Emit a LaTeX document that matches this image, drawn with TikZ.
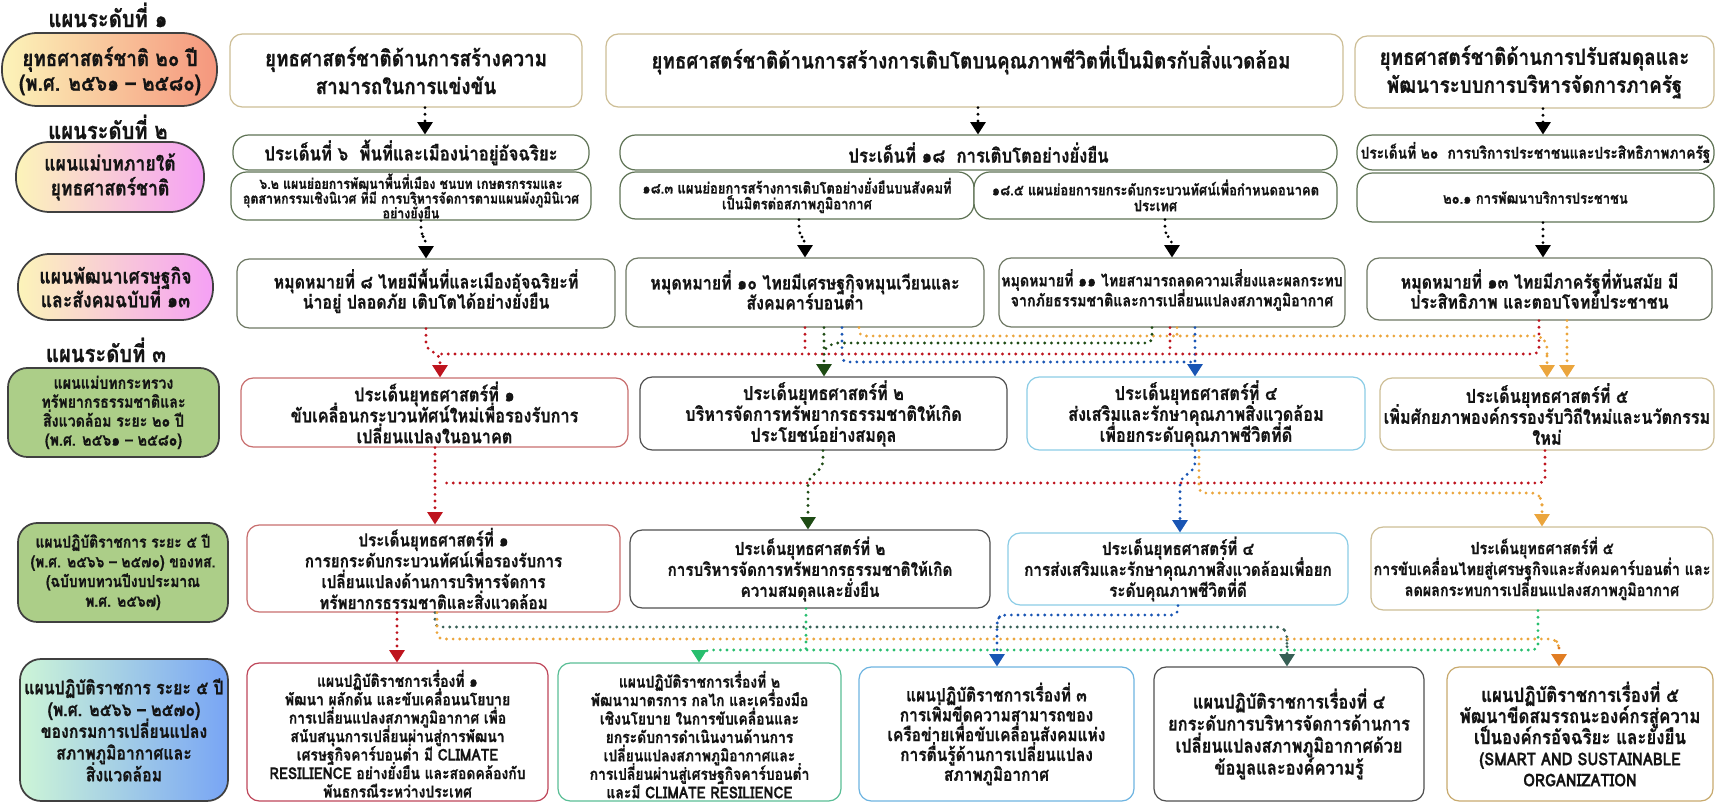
\documentclass[tikz,border=0pt]{standalone}
\usepackage{fontspec}
\newfontfamily\thai[Script=Thai,FakeStretch=0.85,BoldFeatures={FakeBold=0.7}]{Loma}
\usetikzlibrary{arrows.meta,fit}
\definecolor{ink}{RGB}{20,20,20}
\definecolor{tanb}{RGB}{205,190,150}
\definecolor{grnb}{RGB}{95,115,85}
\definecolor{cgb}{RGB}{110,120,100}
\definecolor{grb}{RGB}{80,80,80}
\definecolor{redb}{RGB}{200,110,110}
\definecolor{cyb}{RGB}{140,205,230}
\definecolor{rd}{RGB}{190,20,30}
\definecolor{dg}{RGB}{30,75,20}
\definecolor{bl}{RGB}{25,85,180}
\definecolor{og}{RGB}{235,165,60}
\definecolor{ogd}{RGB}{225,125,35}
\definecolor{sl}{RGB}{55,95,85}
\definecolor{gn}{RGB}{40,190,110}
\definecolor{py}{RGB}{252,244,185}
\definecolor{ps}{RGB}{245,150,125}
\definecolor{pp}{RGB}{245,160,245}
\definecolor{gbx}{RGB}{172,206,136}
\definecolor{mint}{RGB}{205,245,215}
\definecolor{sky}{RGB}{120,165,245}
\definecolor{f1b}{RGB}{190,70,90}
\definecolor{f2b}{RGB}{90,190,150}
\definecolor{f3b}{RGB}{110,180,225}
\definecolor{f5b}{RGB}{200,170,110}
\begin{document}
\begin{tikzpicture}[x=0.02cm,y=-0.02cm,
  box/.style={draw, line width=0.7pt, rounded corners=7pt, inner sep=0pt, fill=white},
  lp/.style={draw=black!75, line width=1pt, inner sep=0pt},
  tx/.style={text=ink, align=center, inner sep=0pt, execute at begin node={\lineskiplimit=-50pt\lineskip=0pt}},
  fs/.style 2 args={font=\thai\bfseries\fontsize{#1}{#2}\selectfont},
  dl/.style={line width=1.8pt, dash pattern=on 0pt off 3.8pt, line cap=round, rounded corners=3pt},
  ar/.style={-{Triangle[width=9pt,length=7pt,line width=0pt]}},
]
\useasboundingbox (0,0) rectangle (1715,803);
% ---------- left column ----------
\node[tx, fs={13.5}{15}] (l1) at (108,15) {แผนระดับที่ ๑};
\node[tx, fs={13.5}{15}] (l2) at (108,127) {แผนระดับที่ ๒};
\node[tx, fs={13.5}{15}] (l3) at (106,350) {แผนระดับที่ ๓};
\node[lp, rounded corners=20pt, left color=py, right color=ps, fit={(2,33) (217,106)}] (p1) {};
\node[tx, fs={12.6}{14}] (p1t) at (110,71) {ยุทธศาสตร์ชาติ ๒๐ ปี\\(พ.ศ. ๒๕๖๑ – ๒๕๘๐)};
\node[lp, rounded corners=19pt, left color=py, right color=pp, fit={(16,142) (204,212)}] (p2) {};
\node[tx, fs={11.8}{14}] (p2t) at (p2) {แผนแม่บทภายใต้\\ยุทธศาสตร์ชาติ};
\node[lp, rounded corners=18pt, left color=py, right color=pp, fit={(18,254) (213,320)}] (p3) {};
\node[tx, fs={11.8}{13.5}] (p3t) at (p3) {แผนพัฒนาเศรษฐกิจ\\และสังคมฉบับที่ ๑๓};
\node[lp, rounded corners=11pt, fill=gbx, fit={(8,368) (219,457)}] (g4) {};
\node[tx, fs={9.5}{10.8}] (g4t) at (g4) {แผนแม่บทกระทรวง\\ทรัพยากรธรรมชาติและ\\สิ่งแวดล้อม ระยะ ๒๐ ปี\\(พ.ศ. ๒๕๖๑ – ๒๕๘๐)};
\node[lp, rounded corners=11pt, fill=gbx, fit={(18,523) (228,622)}] (g5) {};
\node[tx, fs={9.3}{11.2}] (g5t) at (123,572) {แผนปฏิบัติราชการ ระยะ ๕ ปี\\(พ.ศ. ๒๕๖๖ – ๒๕๗๐) ของทส.\\(ฉบับทบทวนปีงบประมาณ\\พ.ศ. ๒๕๖๗)};
\node[lp, rounded corners=12pt, left color=mint, right color=sky, fit={(20,659) (228,801)}] (g6) {};
\node[tx, fs={10.6}{12.4}] (g6t) at (g6) {แผนปฏิบัติราชการ ระยะ ๕ ปี\\(พ.ศ. ๒๕๖๖ – ๒๕๗๐)\\ของกรมการเปลี่ยนแปลง\\สภาพภูมิอากาศและ\\สิ่งแวดล้อม};
% ---------- row A ----------
\node[box, draw=tanb, fit={(230,34) (582,107)}] (a1) {};
\node[tx, fs={12.6}{15.9}] (a1t) at (a1) {ยุทธศาสตร์ชาติด้านการสร้างความ\\สามารถในการแข่งขัน};
\node[box, draw=tanb, fit={(606,34) (1343,107)}] (a2) {};
\node[tx, fs={12.6}{15.9}] (a2t) at (971,60) {ยุทธศาสตร์ชาติด้านการสร้างการเติบโตบนคุณภาพชีวิตที่เป็นมิตรกับสิ่งแวดล้อม};
\node[box, draw=tanb, fit={(1355,36) (1714,108)}] (a3) {};
\node[tx, fs={12.6}{15.9}] (a3t) at (a3) {ยุทธศาสตร์ชาติด้านการปรับสมดุลและ\\พัฒนาระบบการบริหารจัดการภาครัฐ};
% ---------- row B ----------
\node[box, draw=grnb, rounded corners=9pt, fit={(233,135) (589,170)}] (b1) {};
\node[tx, fs={11.2}{13}] (b1t) at (b1) {ประเด็นที่ ๖\ \ พื้นที่และเมืองน่าอยู่อัจฉริยะ};
\node[box, draw=grnb, rounded corners=9pt, fit={(231,172) (591,220)}] (b1s) {};
\node[tx, fs={8.3}{8.4}] (b1st) at (b1s) {๖.๒ แผนย่อยการพัฒนาพื้นที่เมือง ชนบท เกษตรกรรมและ\\อุตสาหกรรมเชิงนิเวศ ที่มี การบริหารจัดการตามแผนผังภูมินิเวศ\\อย่างยั่งยืน};
\node[box, draw=grnb, rounded corners=9pt, fit={(620,135) (1337,170)}] (b2) {};
\node[tx, fs={11.2}{13}] (b2t) at (b2) {ประเด็นที่ ๑๘\ \ การเติบโตอย่างยั่งยืน};
\node[box, draw=grnb, rounded corners=9pt, fit={(620,172) (974,219)}] (b2a) {};
\node[tx, fs={8.7}{9}] (b2at) at (b2a) {๑๘.๓ แผนย่อยการสร้างการเติบโตอย่างยั่งยืนบนสังคมที่\\เป็นมิตรต่อสภาพภูมิอากาศ};
\node[box, draw=grnb, rounded corners=9pt, fit={(974,172) (1337,219)}] (b2b) {};
\node[tx, fs={8.7}{9}] (b2bt) at (b2b) {๑๘.๕ แผนย่อยการยกระดับกระบวนทัศน์เพื่อกำหนดอนาคต\\ประเทศ};
\node[box, draw=grnb, rounded corners=9pt, fit={(1357,135) (1714,170)}] (b3) {};
\node[tx, fs={9.2}{12}] (b3t) at (b3) {ประเด็นที่ ๒๐\ \ การบริการประชาชนและประสิทธิภาพภาครัฐ};
\node[box, draw=grnb, rounded corners=9pt, fit={(1357,173) (1714,222)}] (b3s) {};
\node[tx, fs={8.7}{10}] (b3st) at (b3s) {๒๐.๑ การพัฒนาบริการประชาชน};
% ---------- row C ----------
\node[box, draw=cgb, fit={(237,259) (615,328)}] (c1) {};
\node[tx, fs={10.7}{11.4}] (c1t) at ([yshift=1.5pt]c1.center) {หมุดหมายที่ ๘ ไทยมีพื้นที่และเมืองอัจฉริยะที่\\น่าอยู่ ปลอดภัย เติบโตได้อย่างยั่งยืน};
\node[box, draw=cgb, fit={(626,258) (984,327)}] (c2) {};
\node[tx, fs={10.7}{11.4}] (c2t) at ([yshift=1.5pt]c2.center) {หมุดหมายที่ ๑๐ ไทยมีเศรษฐกิจหมุนเวียนและ\\สังคมคาร์บอนต่ำ};
\node[box, draw=cgb, fit={(999,258) (1345,327)}] (c3) {};
\node[tx, fs={9.5}{11.4}] (c3t) at ([yshift=1.5pt]c3.center) {หมุดหมายที่ ๑๑ ไทยสามารถลดความเสี่ยงและผลกระทบ\\จากภัยธรรมชาติและการเปลี่ยนแปลงสภาพภูมิอากาศ};
\node[box, draw=cgb, fit={(1367,258) (1712,320)}] (c4) {};
\node[tx, fs={10.7}{11.4}] (c4t) at (c4) {หมุดหมายที่ ๑๓ ไทยมีภาครัฐที่ทันสมัย มี\\ประสิทธิภาพ และตอบโจทย์ประชาชน};
% ---------- row D ----------
\node[box, draw=redb, fit={(241,378) (628,447)}] (d1) {};
\node[tx, fs={10.9}{11.9}] (d1t) at (d1) {ประเด็นยุทธศาสตร์ที่ ๑\\ขับเคลื่อนกระบวนทัศน์ใหม่เพื่อรองรับการ\\เปลี่ยนแปลงในอนาคต};
\node[box, draw=grb, fit={(640,377) (1007,450)}] (d2) {};
\node[tx, fs={10.9}{11.9}] (d2t) at (d2) {ประเด็นยุทธศาสตร์ที่ ๒\\บริหารจัดการทรัพยากรธรรมชาติให้เกิด\\ประโยชน์อย่างสมดุล};
\node[box, draw=cyb, fit={(1027,377) (1365,450)}] (d3) {};
\node[tx, fs={10.9}{11.9}] (d3t) at (d3) {ประเด็นยุทธศาสตร์ที่ ๔\\ส่งเสริมและรักษาคุณภาพสิ่งแวดล้อม\\เพื่อยกระดับคุณภาพชีวิตที่ดี};
\node[box, draw=tanb, fit={(1380,378) (1714,450)}] (d4) {};
\node[tx, fs={10.9}{11.9}] (d4t) at (d4) {ประเด็นยุทธศาสตร์ที่ ๕\\เพิ่มศักยภาพองค์กรรองรับวิถีใหม่และนวัตกรรม\\ใหม่};
% ---------- row E ----------
\node[box, draw=redb, fit={(247,525) (620,612)}] (e1) {};
\node[tx, fs={10.2}{11.9}] (e1t) at (e1) {ประเด็นยุทธศาสตร์ที่ ๑\\การยกระดับกระบวนทัศน์เพื่อรองรับการ\\เปลี่ยนแปลงด้านการบริหารจัดการ\\ทรัพยากรธรรมชาติและสิ่งแวดล้อม};
\node[box, draw=grb, fit={(630,530) (990,608)}] (e2) {};
\node[tx, fs={10.2}{11.9}] (e2t) at (e2) {ประเด็นยุทธศาสตร์ที่ ๒\\การบริหารจัดการทรัพยากรธรรมชาติให้เกิด\\ความสมดุลและยั่งยืน};
\node[box, draw=cyb, fit={(1008,533) (1348,605)}] (e3) {};
\node[tx, fs={10.2}{11.9}] (e3t) at (e3) {ประเด็นยุทธศาสตร์ที่ ๔\\การส่งเสริมและรักษาคุณภาพสิ่งแวดล้อมเพื่อยก\\ระดับคุณภาพชีวิตที่ดี};
\node[box, draw=tanb, fit={(1371,527) (1713,610)}] (e4) {};
\node[tx, fs={9.6}{11.9}] (e4t) at (e4) {ประเด็นยุทธศาสตร์ที่ ๕\\การขับเคลื่อนไทยสู่เศรษฐกิจและสังคมคาร์บอนต่ำ และ\\ลดผลกระทบการเปลี่ยนแปลงสภาพภูมิอากาศ};
% ---------- row F ----------
\node[box, draw=f1b, fit={(247,663) (548,801)}] (f1) {};
\node[tx, fs={9.3}{10.5}] (f1t) at ([yshift=-1pt]f1.center) {แผนปฏิบัติราชการเรื่องที่ ๑\\พัฒนา ผลักดัน และขับเคลื่อนนโยบาย\\การเปลี่ยนแปลงสภาพภูมิอากาศ เพื่อ\\สนับสนุนการเปลี่ยนผ่านสู่การพัฒนา\\เศรษฐกิจคาร์บอนต่ำ มี CLIMATE\\RESILIENCE อย่างยั่งยืน และสอดคล้องกับ\\พันธกรณีระหว่างประเทศ};
\node[box, draw=f2b, fit={(558,663) (841,801)}] (f2) {};
\node[tx, fs={9.3}{10.5}] (f2t) at ([yshift=-1.5pt]f2.center) {แผนปฏิบัติราชการเรื่องที่ ๒\\พัฒนามาตรการ กลไก และเครื่องมือ\\เชิงนโยบาย ในการขับเคลื่อนและ\\ยกระดับการดำเนินงานด้านการ\\เปลี่ยนแปลงสภาพภูมิอากาศและ\\การเปลี่ยนผ่านสู่เศรษฐกิจคาร์บอนต่ำ\\และมี CLIMATE RESILIENCE};
\node[box, draw=f3b, fit={(859,667) (1134,801)}] (f3) {};
\node[tx, fs={10.4}{11.3}] (f3t) at (f3) {แผนปฏิบัติราชการเรื่องที่ ๓\\การเพิ่มขีดความสามารถของ\\เครือข่ายเพื่อขับเคลื่อนสังคมแห่ง\\การตื่นรู้ด้านการเปลี่ยนแปลง\\สภาพภูมิอากาศ};
\node[box, draw=grb, fit={(1154,667) (1424,801)}] (f4) {};
\node[tx, fs={11}{12.5}] (f4t) at (f4) {แผนปฏิบัติราชการเรื่องที่ ๔\\ยกระดับการบริหารจัดการด้านการ\\เปลี่ยนแปลงสภาพภูมิอากาศด้วย\\ข้อมูลและองค์ความรู้};
\node[box, draw=f5b, fit={(1447,667) (1713,801)}] (f5) {};
\node[tx, fs={11.3}{12}] (f5t) at (f5) {แผนปฏิบัติราชการเรื่องที่ ๕\\พัฒนาขีดสมรรถนะองค์กรสู่ความ\\เป็นองค์กรอัจฉริยะ และยั่งยืน\\{\fontsize{10}{12}\selectfont (SMART AND SUSTAINABLE}\\{\fontsize{10}{12}\selectfont ORGANIZATION}};
% ---------- black connectors ----------
\draw[dl, ar, black] (a1.south -| 425,0) -- (b1.north -| 425,0);
\draw[dl, ar, black] (a2.south -| 978,0) -- (b2.north -| 978,0);
\draw[dl, ar, black] (a3.south -| 1543,0) -- (b3.north -| 1543,0);
\draw[dl, ar, black] (b1s.south -| 421,0) -- (421,234) -- (426,240) -- (c1.north -| 426,0);
\draw[dl, ar, black] (b2a.south -| 799,0) -- (799,234) -- (805,240) -- (c2.north -| 805,0);
\draw[dl, ar, black] (b2b.south -| 1165,0) -- (1165,234) -- (1172,240) -- (c3.north -| 1172,0);
\draw[dl, ar, black] (b3s.south -| 1543,0) -- (c4.north -| 1543,0);
% ---------- C -> D ----------
\draw[dl, og] (c2.south -| 859,0) |- (1540,336) -- (1547,343) -- (1547,360);
\draw[dl, ar, og] (1547,356) -- (d4.north -| 1547,0);
\draw[dl, ar, og] (c4.south -| 1567,0) -- (d4.north -| 1567,0);
\draw[dl, og] (c3.south -| 1177,0) -- (1177,336);
\draw[dl, dg] (c3.south -| 1152,0) |- (833,343) -- (824,350);
\draw[dl, ar, dg] (c2.south -| 824,0) -- (d2.north -| 824,0);
\draw[dl, bl] (c2.south -| 842,0) |- (1195,362);
\draw[dl, ar, bl] (c3.south -| 1195,0) -- (d3.north -| 1195,0);
\draw[dl, rd] (c4.south -| 1539,0) |- (440,354);
\draw[dl, rd] (c2.south -| 805,0) -- (805,354);
\draw[dl, rd] (c3.south -| 1170,0) -- (1170,354);
\draw[dl, ar, rd] (c1.south -| 426,0) -- (426,348) -- (440,356) -- (d1.north -| 440,0);
% ---------- D -> E ----------
\draw[dl, rd] (d4.south -| 1545,0) |- (441,483);
\draw[dl, ar, rd] (d1.south -| 435,0) -- (e1.north -| 435,0);
\draw[dl, ar, dg] (d2.south -| 823,0) -- (823,466) -- (808,480) -- (e2.north -| 808,0);
\draw[dl, og] (d3.south -| 1199,0) |- (1537,493) -- (1542,500) -- (1542,510);
\draw[dl, ar, og] (1542,505) -- (e4.north -| 1542,0);
\draw[dl, ar, bl] (d3.south -| 1195,0) -- (1195,468) -- (1180,480) -- (e3.north -| 1180,0);
% ---------- E -> F ----------
\draw[dl, ar, rd] (e1.south -| 397,0) -- (f1.north -| 397,0);
\draw[dl, sl] (e1.south -| 435,0) |- (1282,627) -- (1287,633) -- (1287,645);
\draw[dl, ar, sl] (1287,640) -- (f4.north -| 1287,0);
\draw[dl, og] (e1.south -| 437,0) |- (1555,639) -- (1559,645) -- (1559,652);
\draw[dl, ar, ogd] (1559,648) -- (f5.north -| 1559,0);
\draw[dl, gn] (e2.south -| 806,0) -- (806,650);
\draw[dl, ar, gn] (e4.south -| 1538,0) |- (706,650) -- (699,656) -- (f2.north -| 699,0);
\draw[dl, ar, bl] (e3.south -| 1178,0) |- (1001,615) -- (997,620) -- (f3.north -| 997,0);
\end{tikzpicture}
\end{document}
